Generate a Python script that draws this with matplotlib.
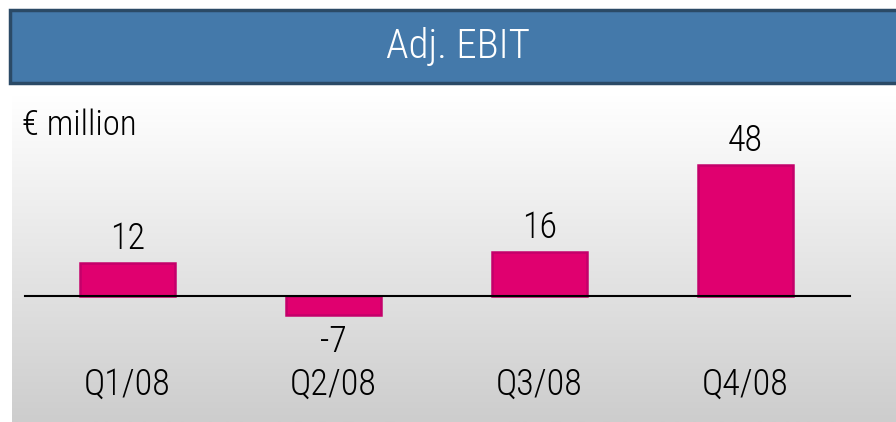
import matplotlib
matplotlib.use("Agg")
import matplotlib.pyplot as plt
import numpy as np
from matplotlib.patches import Rectangle

categories = ["Q1/08", "Q2/08", "Q3/08", "Q4/08"]
values = [12, -7, 16, 48]
value_labels = ["12", "-7", "16", "48"]
title = "Adj. EBIT"
unit = "€ million"

FONT = ['Roboto Condensed', 'Liberation Sans Narrow', 'Liberation Sans', 'DejaVu Sans']
plt.rcParams['font.family'] = FONT
plt.rcParams['font.weight'] = 300

W, H = 896, 422
fig = plt.figure(figsize=(W / 100, H / 100), dpi=100)
fig.patch.set_facecolor('white')

# title bar
fig.patches.append(Rectangle((10 / W, 1 - 83 / H), 900 / W, 73 / H,
                             transform=fig.transFigure, facecolor='#4479aa',
                             edgecolor='#2b4a66', linewidth=2.5, zorder=0))
fig.text(458 / W, 1 - 46 / H, title, color='white', fontsize=29.5,
         ha='center', va='center')

# panel
left, top = 12, 95
ax = fig.add_axes([left / W, 0, (W - left) / W, (H - top) / H])
x0 = 127.5
step = 206.0
ppu = 2.73
base = 296
xl = ((left - x0) / step, (W - x0) / step)
yl = (-(H - base) / ppu, (base - top) / ppu)

grad = np.linspace(0, 1, 256).reshape(-1, 1)
cmap = matplotlib.colors.LinearSegmentedColormap.from_list('g', ['#ffffff', '#cdcdcd'])
ax.imshow(grad, aspect='auto', cmap=cmap, extent=[xl[0], xl[1], yl[0], yl[1]],
          origin='upper', zorder=0)
ax.set_xlim(*xl)
ax.set_ylim(*yl)

x = np.arange(len(categories))
ax.bar(x, values, width=0.46, color='#e0006f', edgecolor='#c4006a', linewidth=1.8, zorder=2)
ax.plot([(25 - x0) / step, (850 - x0) / step], [0, 0], color='black', lw=1.5, zorder=3)

for xi, v, lab in zip(x, values, value_labels):
    off = 24 if v >= 0 else -27
    ax.annotate(lab, (xi, v), xytext=(0, off * 0.72), textcoords='offset points',
                ha='center', va='center', fontsize=26, color='black')

for xi, c in zip(x, categories):
    ax.text(xi, (H - 385) / (H - top), c, transform=ax.get_xaxis_transform(),
            ha='center', va='center', fontsize=26, color='black')

ax.text((22 - left) / (W - left), (H - 125) / (H - top), unit, transform=ax.transAxes,
        ha='left', va='center', fontsize=25, color='black')

ax.axis('off')
fig.savefig('out.png', dpi=100)
